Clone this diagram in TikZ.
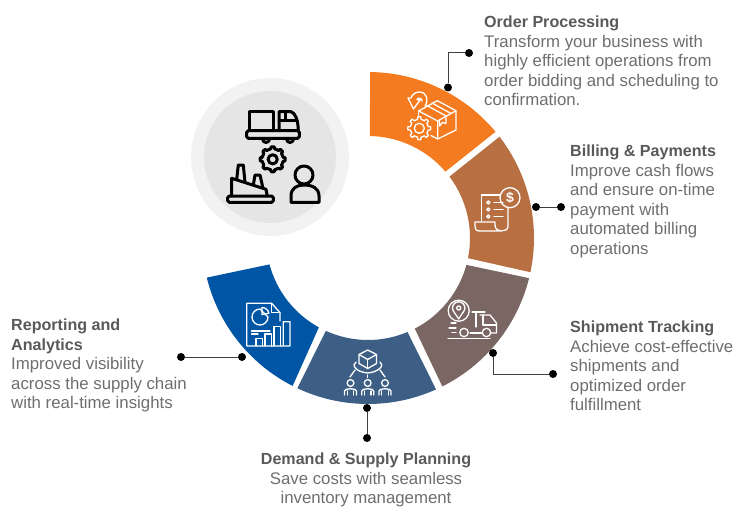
\documentclass[tikz,border=0pt]{standalone}
\usepackage{fontspec}
\setmainfont{Liberation Sans}
\definecolor{ordercol}{HTML}{F47B20}
\definecolor{billcol}{HTML}{B86F41}
\definecolor{trackcol}{HTML}{7A6663}
\definecolor{plancol}{HTML}{3D5F85}
\definecolor{reportcol}{HTML}{0056A4}
\definecolor{bodygrey}{HTML}{6D6E71}
\definecolor{headgrey}{HTML}{58595B}
\tikzset{
  leaderdot/.style={circle,fill=black,inner sep=0pt,minimum size=8pt},
  leader/.style={draw=black!75,line width=1pt},
  blurb/.style={anchor=north west,inner sep=0pt,align=left,text=bodygrey,font=\fontsize{16.8}{19.5}\selectfont},
  blurbmid/.style={blurb,anchor=north,align=center},
  whiteline/.style={draw=white,line width=1.3pt,line join=round,line cap=round},
  blackline/.style={draw=black,line width=3pt,line join=round,line cap=round},
}
\newcommand{\headtxt}[1]{\textcolor{headgrey}{\fontsize{16.1}{19.5}\selectfont\textbf{#1}}}
% #1 colour, #2 #3 outer angles, #4 #5 inner angles
\newcommand{\ringpiece}[5]{
  \fill[#1] (#2:166) arc[start angle=#2,end angle=#3,radius=166]
    -- (#4:102) arc[start angle=#4,end angle=#5,radius=102] -- cycle;
}
\begin{document}
\begin{tikzpicture}[x=1pt,y=-1pt]
  \useasboundingbox (0,0) rectangle (751,516);

  % backdrop circle
  \fill[black!5] (270,157) circle (79);
  \fill[black!10] (270,157) circle (66);

  % ring
  \begin{scope}[shift={(368,238)}]
    \ringpiece{ordercol}{-89.3}{-39.8}{-40.6}{-88.9}
    \ringpiece{billcol}{-37.6}{11.9}{11.4}{-37}
    \ringpiece{trackcol}{14}{63.4}{62.7}{15.3}
    \ringpiece{plancol}{65.8}{115.2}{114.4}{67.2}
    \ringpiece{reportcol}{117}{166.2}{165}{118.8}
  \end{scope}

  % middle icon
  \draw[blackline] (249.3,130.7) -- (249.3,111.7) -- (273.3,111.7) -- (273.3,130.7);
  \draw[blackline] (279,130.7) -- (279,111.7) -- (291,111.7) .. controls (295,113) and (298,119) .. (298.3,130.7);
  \draw[blackline] (285,111.7) -- (285,120);
  \draw[blackline] (279,120) -- (297,120);
  \draw[blackline,rounded corners=1.5pt] (246.7,130.7) rectangle (299.3,138.3);
  \draw[blackline] (262.5,139) arc[start angle=180,end angle=0,radius=3.5];
  \draw[blackline] (286.5,139) arc[start angle=180,end angle=0,radius=3.5];
  \draw[blackline] plot[domain=0:360,samples=97] ({272.7+(cos(8*\x)>0?12.5:10.5)*cos(\x)},{159.3+(cos(8*\x)>0?12.5:10.5)*sin(\x)}) -- cycle;
  \draw[blackline] (272.7,159.3) circle (4.6);
  \draw[blackline,rounded corners=1.5pt] (227.7,196) rectangle (273.3,202.3);
  \draw[blackline] (231.7,196) -- (231.7,178.3) -- (266,189.3) -- (267.3,196);
  \draw[blackline] (236.7,179.5) -- (238.3,165) -- (243.3,165) -- (245,182.5);
  \draw[blackline] (253.3,185) -- (255,175) -- (260,175) -- (262.7,187);
  \draw[blackline] (304,175) circle (9);
  \draw[blackline] (291,202.3) -- (291,196) .. controls (291,188) and (297,185) .. (304,185)
    .. controls (312,185) and (319,188) .. (319,196) -- (319,202.3) -- cycle;

  % order icon
  \draw[whiteline] (437.3,100.7) -- (456,110.7) -- (437.7,121) -- (418.7,111) -- cycle;
  \draw[whiteline] (456,110.7) -- (456,130) -- (437.7,139) -- (437.7,121);
  \draw[whiteline] (418.7,111) -- (418.7,117);
  \draw[whiteline] (437.7,139) -- (431,135.5);
  \draw[whiteline] (427,105.5) -- (446,116) -- (446,123.5) -- (442.5,122.5) -- (439.5,126) -- (439.5,120);
  \draw[whiteline] (432,103) -- (451,113.5);
  \draw[whiteline] plot[domain=0:360,samples=97] ({419.3+(cos(8*\x)>0?11.5:9)*cos(\x)},{128.3+(cos(8*\x)>0?11.5:9)*sin(\x)}) -- cycle;
  \draw[whiteline] (419.3,128.3) circle (5);
  \draw[whiteline] (425,106) .. controls (429,100) and (427,92) .. (419,92)
    .. controls (415,92) and (412,95) .. (411,98) -- (408,98) -- (413.5,109) -- (420,100) -- (417,99.5)
    .. controls (418,97) and (422,98) .. (422,101);

  % billing icon
  \draw[whiteline] (500.5,195) -- (481.7,195) -- (481.7,221);
  \draw[whiteline] (508,208) -- (508,226.5) .. controls (508,230) and (504,231) .. (501,231) -- (480,231)
    .. controls (475,231) and (475,229) .. (475,222) -- (495,222) -- (495,225) .. controls (495,229) and (498,231) .. (501,231);
  \draw[whiteline] (510,197.7) circle (10);
  \node (dollar) at (510,197.7) {\textcolor{white}{\fontsize{14}{14}\selectfont\textbf{\$}}};
  \foreach \y in {202.5,209.5,216.5} {
    \draw[whiteline] (488.3,\y) circle (1.6);
    \draw[whiteline] (494,\y) -- (503,\y);
  }

  % tracking icon
  \draw[whiteline] (458.7,310.7) circle (10.5);
  \draw[whiteline] (458.7,319) .. controls (455,313) and (452.5,311) .. (452.5,308) arc[start angle=180,end angle=360,radius=6.2]
    .. controls (465,311) and (462,313) .. (458.7,319) -- cycle;
  \draw[whiteline] (458.7,308) circle (2);
  \draw[whiteline] (472,312) -- (485,312);
  \draw[whiteline] (476,312) -- (476,327);
  \draw[whiteline] (480,315) -- (490,315) -- (496.5,323) -- (496.5,333) -- (491,333);
  \draw[whiteline] (483,315) -- (483,325) -- (496,325);
  \draw[whiteline] (470,333) -- (482,333);
  \draw[whiteline] (464,332.5) circle (4.2);
  \draw[whiteline] (486.5,332.5) circle (4.2);
  \draw[whiteline] (448,338.5) -- (490,338.5);
  \draw[whiteline] (451,323) -- (456,323);
  \draw[whiteline] (449,328) -- (456,328);
  \draw[whiteline] (452,332.5) -- (456,332.5);

  % planning icon
  \draw[whiteline] (367.7,350) -- (376.5,354.5) -- (376.5,363.5) -- (367.7,368.5) -- (359,363.5) -- (359,354.5) -- cycle;
  \draw[whiteline] (359,354.5) -- (367.7,359.5) -- (376.5,354.5);
  \draw[whiteline] (367.7,359.5) -- (367.7,368.5);
  \draw[whiteline] (356,362) .. controls (351,365) and (356,372) .. (367.7,373) .. controls (379,372) and (385,365) .. (380,362);
  \draw[whiteline] (355,370) -- (350,377);
  \draw[whiteline] (367.7,375) -- (367.7,377.5);
  \draw[whiteline] (380,370) -- (385,377);
  \foreach \x in {350.5,367.7,385} {
    \draw[whiteline] (\x,383) circle (3.4);
    \draw[whiteline] (\x-6,395) -- (\x-6,391) .. controls (\x-6,388) and (\x+6,388) .. (\x+6,391) -- (\x+6,395);
    \draw[whiteline] (\x-3.3,395) -- (\x-3.3,391);
    \draw[whiteline] (\x+3.3,395) -- (\x+3.3,391);
  }

  % reporting icon
  \draw[whiteline] (280,321) -- (280,312.7) -- (271.7,303.3) -- (246.7,303.3) -- (246.7,346) -- (290,346) -- (290,321.7) -- (283.3,321.7) -- (283.3,346);
  \draw[whiteline] (271.7,303.3) -- (271.7,312.7) -- (280,312.7);
  \draw[whiteline] (260,309) arc[start angle=-90,end angle=-360,radius=8] -- cycle;
  \draw[whiteline] (262,314.5) -- (262,307.5) arc[start angle=-90,end angle=-10,radius=7] -- cycle;
  \draw[whiteline] (251.5,331) -- (270,331);
  \draw[whiteline] (251.5,334) -- (258,334);
  \draw[whiteline] (256,346) -- (256,338.3) -- (262.7,338.3) -- (262.7,346);
  \draw[whiteline] (265,346) -- (265,334) -- (271.7,334) -- (271.7,346);
  \draw[whiteline] (274,346) -- (274,326.7) -- (280.7,326.7) -- (280.7,346);

  % leader dots
  \node[leaderdot] (orderfar) at (469,53) {};
  \node[leaderdot] (ordernear) at (448,87.5) {};
  \node[leaderdot] (billnear) at (536,207) {};
  \node[leaderdot] (billfar) at (561,207) {};
  \node[leaderdot] (tracknear) at (493,353) {};
  \node[leaderdot] (trackfar) at (553,374) {};
  \node[leaderdot] (plannear) at (367,408) {};
  \node[leaderdot] (planfar) at (367,438) {};
  \node[leaderdot] (reportfar) at (181,357) {};
  \node[leaderdot] (reportnear) at (242,357) {};
  \draw[leader] (orderfar) -| (ordernear);
  \draw[leader] (billnear) -- (billfar);
  \draw[leader] (tracknear) |- (trackfar);
  \draw[leader] (plannear) -- (planfar);
  \draw[leader] (reportfar) -- (reportnear);

  % texts
  \node[blurb] (ordertxt) at (484,16) {\headtxt{Order Processing}\\Transform your business with\\highly efficient operations from\\order bidding and scheduling to\\confirmation.};
  \node[blurb] (billtxt) at (570,145) {\headtxt{Billing \& Payments}\\Improve cash flows\\and ensure on-time\\payment with\\automated billing\\operations};
  \node[blurb] (tracktxt) at (570,321) {\headtxt{Shipment Tracking}\\Achieve cost-effective\\shipments and\\optimized order\\fulfillment};
  \node[blurbmid] (plantxt) at (366,453) {\headtxt{Demand \& Supply Planning}\\Save costs with seamless\\inventory management};
  \node[blurb] (reporttxt) at (11,319) {\headtxt{Reporting and}\\\headtxt{Analytics}\\Improved visibility\\across the supply chain\\with real-time insights};
\end{tikzpicture}
\end{document}
